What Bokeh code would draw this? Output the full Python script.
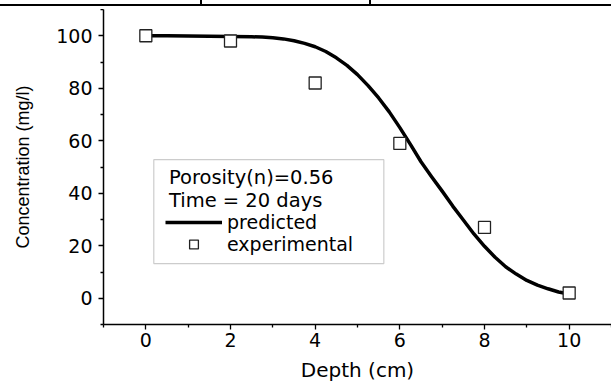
from bokeh.plotting import figure
from bokeh.models import Range1d, FixedTicker, Legend, LegendItem, Label, BoxAnnotation, Div
from bokeh.layouts import column
from bokeh.embed import file_html
from bokeh.resources import INLINE

# ---- data ----
depth_exp = [0, 2, 4, 6, 8, 10]
conc_exp = [100, 98, 82, 59, 27, 2]

depth_pred = [0, 0.5, 1.0, 1.5, 2.0, 2.5, 2.75, 3.0, 3.25, 3.5, 3.75, 4.0, 4.25, 4.5, 4.75,
              5.0, 5.25, 5.5, 5.75, 6.0, 6.25, 6.5, 6.75, 7.0, 7.25, 7.5, 7.75,
              8.0, 8.25, 8.5, 8.75, 9.0, 9.25, 9.5, 9.75, 10.0]
conc_pred = [100.0, 100.0, 99.9, 99.8, 99.7, 99.6, 99.5, 99.2, 98.8, 98.1, 97.1, 95.8, 94.0, 91.6, 88.7,
             85.2, 81.0, 76.3, 71.0, 65.0, 58.6, 52.0, 46.3, 40.8, 35.1, 29.8, 24.5,
             19.8, 15.6, 12.0, 9.2, 6.8, 5.0, 3.6, 2.4, 1.6]

x_ticks = [0, 2, 4, 6, 8, 10]
x_minor = [-1, 1, 3, 5, 7, 9, 11]
y_ticks = [0, 20, 40, 60, 80, 100]
y_minor = [-10, 10, 30, 50, 70, 90, 110]

legend_header = ["Porosity(n)=0.56", "Time = 20 days"]
legend_labels = ["predicted", "experimental"]

FONT = "DejaVu Sans"

# ---- thin strip above the chart: remnant of a table border ----
strip_svg = ('<svg xmlns="http://www.w3.org/2000/svg" width="611" height="9" '
             'style="display:block;margin:0;padding:0;">'
             '<rect x="0" y="4" width="611" height="2" fill="#000"/>'
             '<rect x="200" y="0" width="2" height="5" fill="#000"/>'
             '<rect x="369" y="0" width="2" height="5" fill="#000"/>'
             '</svg>')
strip = Div(text=strip_svg, width=611, height=9, margin=0,
            styles={"margin": "0", "padding": "0", "line-height": "0", "overflow": "hidden"})

p = figure(width=611, height=376, output_backend="svg", toolbar_location=None,
           x_range=Range1d(-1, 11), y_range=Range1d(-10, 110),
           min_border_left=103, min_border_right=0, min_border_top=0, min_border_bottom=61)
p.outline_line_color = None
p.xgrid.visible = False
p.ygrid.visible = False
p.background_fill_color = "white"
p.border_fill_color = "white"

r_line = p.line(depth_pred, conc_pred, line_color="black", line_width=3.5, line_join="round")
r_pts = p.scatter(depth_exp, conc_exp, marker="square", size=12,
                  fill_color="white", line_color="#222222", line_width=1.3)

for ax, ticks, minor in ((p.xaxis[0], x_ticks, x_minor), (p.yaxis[0], y_ticks, y_minor)):
    ax.ticker = FixedTicker(ticks=ticks, minor_ticks=minor)
    ax.axis_line_color = "black"
    ax.axis_line_width = 1.5
    ax.major_tick_line_color = "black"
    ax.major_tick_line_width = 1.3
    ax.minor_tick_line_color = "black"
    ax.minor_tick_line_width = 1.3
    ax.major_tick_in = 0
    ax.major_tick_out = 5
    ax.minor_tick_in = 0
    ax.minor_tick_out = 3
    ax.major_label_text_font = FONT
    ax.major_label_text_font_size = "19px"
    ax.major_label_text_color = "black"
    ax.axis_label_text_font_style = "normal"
    ax.axis_label_text_color = "black"

p.xaxis.axis_label = "Depth (cm)"
p.xaxis.axis_label_text_font = FONT
p.xaxis.axis_label_text_font_size = "20px"
p.xaxis.major_label_standoff = 3
p.xaxis.axis_label_standoff = 8

p.yaxis.axis_label = "Concentration (mg/l)"
p.yaxis.axis_label_text_font = "Liberation Sans"
p.yaxis.axis_label_text_font_size = "18px"
p.yaxis.major_label_standoff = 6
p.yaxis.axis_label_standoff = 20

# legend frame and header lines
box = BoxAnnotation(left=0.188, right=5.622, bottom=13.2, top=52.8,
                    fill_color="white", fill_alpha=1.0,
                    line_color="#555555", line_width=1.2)
p.add_layout(box)
for txt, yy in zip(legend_header, [45.9, 37.3]):
    p.add_layout(Label(x=0.545, y=yy, text=txt, text_font=FONT, text_font_size="19.5px",
                       text_color="black", text_baseline="middle", text_align="left"))

for lab, rend, loc in ((legend_labels[0], r_line, (62, 91)), (legend_labels[1], r_pts, (62, 69))):
    lg = Legend(items=[LegendItem(label=lab, renderers=[rend])],
                location=loc, padding=0, margin=0, spacing=0,
                glyph_width=57, glyph_height=22, label_height=22, label_standoff=5,
                label_text_font=FONT, label_text_font_size="19px", label_text_color="black",
                border_line_alpha=0, background_fill_alpha=0)
    p.add_layout(lg, "center")

layout = column(strip, p, spacing=0)
open("out.html", "w").write(file_html(layout, INLINE))
